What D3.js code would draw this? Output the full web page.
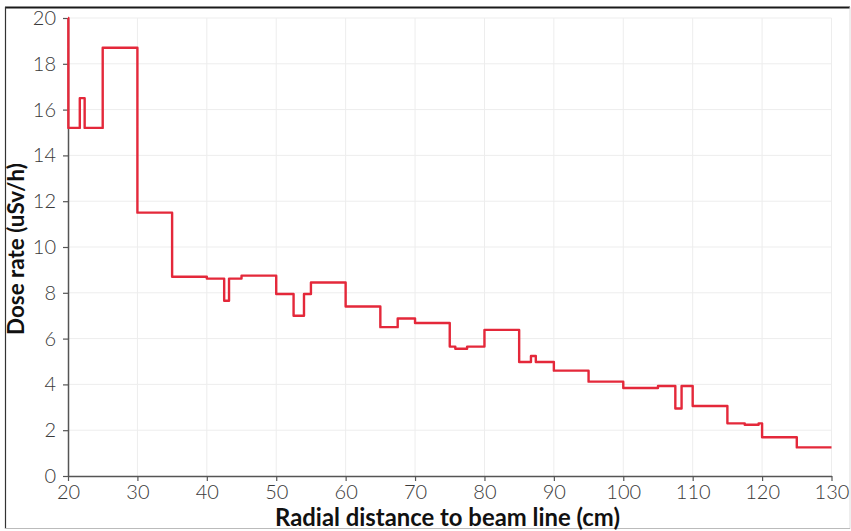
<!DOCTYPE html>
<html>
<head>
<meta charset="utf-8">
<script src="https://cdn.jsdelivr.net/npm/d3@7"></script>
<style>
  html, body { margin: 0; padding: 0; background: #fff; }
  svg { display: block; }
</style>
</head>
<body>
<svg id="chart" width="851" height="531"></svg>
<script>
// Step function: each point starts a flat segment at the given value
const stepStarts = [20, 20.05, 21.7, 22.4, 25, 30, 35, 40, 42.5, 43.2, 45, 50, 52.5, 54, 55, 60, 65, 67.5, 70, 75, 75.8, 77.5, 80, 85, 86.7, 87.4, 90, 95, 100, 105, 107.5, 108.4, 110, 115, 117.5, 119.5, 120, 125, 130];
const doseValues = [20, 15.2, 16.5, 15.2, 18.7, 11.5, 8.7, 8.62, 7.65, 8.62, 8.75, 7.95, 7.0, 7.95, 8.45, 7.4, 6.5, 6.88, 6.68, 5.65, 5.56, 5.65, 6.38, 4.98, 5.24, 4.98, 4.6, 4.12, 3.84, 3.93, 2.95, 3.93, 3.06, 2.3, 2.24, 2.3, 1.69, 1.25, 1.25];
const xTicks = [20, 30, 40, 50, 60, 70, 80, 90, 100, 110, 120, 130];
const yTicks = [0, 2, 4, 6, 8, 10, 12, 14, 16, 18, 20];
const xTitle = "Radial distance to beam line (cm)";
const yTitle = "Dose rate (uSv/h)";

(function () {
const data = stepStarts.map((x, i) => ({ x, y: doseValues[i] }));

const svg = d3.select("#chart");
const mLeft = 68, mRight = 831.5, mTop = 18, mBottom = 476;

// frame
svg.append("line").attr("x1", 5).attr("x2", 850).attr("y1", 7.5).attr("y2", 7.5).attr("stroke", "#1a1a1a").attr("stroke-width", 2);
svg.append("line").attr("x1", 5.5).attr("x2", 5.5).attr("y1", 7).attr("y2", 529).attr("stroke", "#333").attr("stroke-width", 1.2);
svg.append("line").attr("x1", 850).attr("x2", 850).attr("y1", 7).attr("y2", 529).attr("stroke", "#ddd").attr("stroke-width", 1);
svg.append("line").attr("x1", 5).attr("x2", 850).attr("y1", 528.5).attr("y2", 528.5).attr("stroke", "#bbb").attr("stroke-width", 1);

const x = d3.scaleLinear().domain([20, 130]).range([mLeft, mRight]);
const y = d3.scaleLinear().domain([0, 20]).range([mBottom, mTop]);

// grid
const grid = svg.append("g");
grid.selectAll("line.v").data(xTicks.slice(1)).join("line").attr("class", "v")
  .attr("x1", d => x(d)).attr("x2", d => x(d)).attr("y1", mTop).attr("y2", mBottom)
  .attr("stroke", "#ededed").attr("stroke-width", 1);
grid.selectAll("line.h").data(yTicks.slice(1)).join("line").attr("class", "h")
  .attr("x1", mLeft).attr("x2", mRight).attr("y1", d => y(d)).attr("y2", d => y(d))
  .attr("stroke", "#ededed").attr("stroke-width", 1);

// axes
const tickFont = "'Lato', 'Open Sans', sans-serif";
const xAxis = svg.append("g").attr("transform", `translate(0,${mBottom})`)
  .call(d3.axisBottom(x).tickValues(xTicks).tickSize(5).tickSizeOuter(0).tickPadding(4));
const yAxis = svg.append("g").attr("transform", `translate(${mLeft},0)`)
  .call(d3.axisLeft(y).tickValues(yTicks).tickSize(5).tickSizeOuter(0).tickPadding(7));
[xAxis, yAxis].forEach(g => {
  g.select(".domain").attr("stroke", "#555").attr("stroke-width", 1.5);
  g.selectAll(".tick line").attr("stroke", "#555").attr("stroke-width", 1.2);
  g.selectAll(".tick text").attr("fill", "#3a3a3a").style("font-family", tickFont)
    .style("font-size", "20px").style("font-weight", 300);
});

// line
const line = d3.line().x(d => x(d.x)).y(d => y(d.y)).curve(d3.curveStepAfter);
svg.append("path").datum(data).attr("d", line)
  .attr("fill", "none").attr("stroke", "#e4283a").attr("stroke-width", 2.4)
  .attr("stroke-linejoin", "round");

// titles
const titleFont = "'Lato', 'Noto Sans', sans-serif";
const xt = svg.append("text").attr("x", 447.5).attr("y", 525.5).attr("text-anchor", "middle")
  .style("font-family", titleFont).style("font-weight", 700).style("font-size", "18px").attr("fill", "#111")
  .text(xTitle);
const yt = svg.append("text").attr("transform", "translate(24,249) rotate(-90)").attr("text-anchor", "middle")
  .style("font-family", titleFont).style("font-weight", 700).style("font-size", "18px").attr("fill", "#111")
  .text(yTitle);
// fit title widths to reference
[[xt, 345], [yt, 172]].forEach(([t, w]) => {
  const len = t.node().getComputedTextLength();
  t.style("font-size", (18 * w / len).toFixed(2) + "px");
});
})();
</script>
</body>
</html>
